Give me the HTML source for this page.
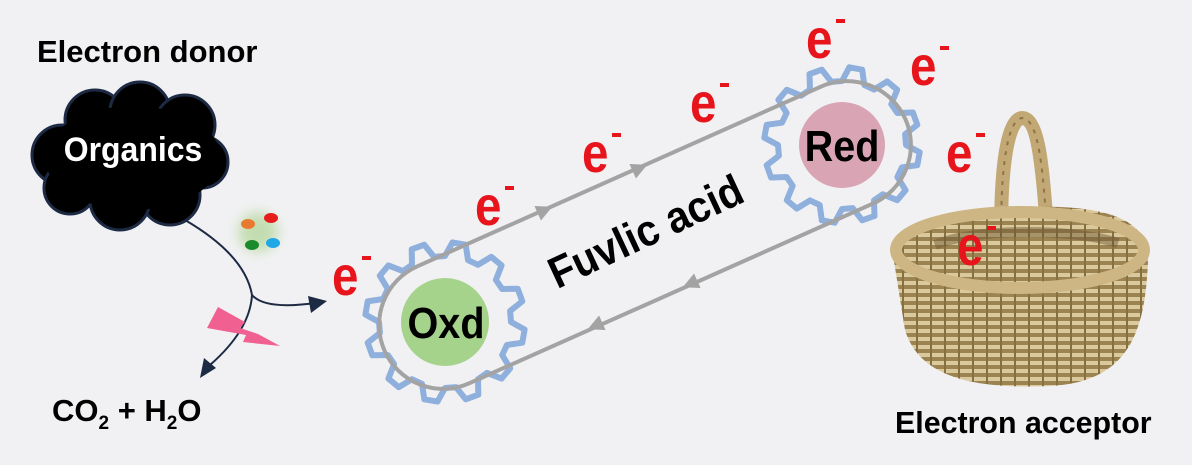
<!DOCTYPE html>
<html><head><meta charset="utf-8"><style>
html,body{margin:0;padding:0;background:#f1f1f3;}
svg{display:block;}
.t{font-family:"Liberation Sans",sans-serif;font-weight:bold;}
.e{font-family:"Liberation Sans",sans-serif;font-weight:bold;fill:#e8141c;font-size:56px;}
</style></head><body>
<svg id="s" width="1192" height="465" viewBox="0 0 1192 465" xmlns="http://www.w3.org/2000/svg">
<defs>
<filter id="bl" x="-50%" y="-50%" width="200%" height="200%"><feGaussianBlur stdDeviation="6"/></filter>
<pattern id="wk" width="14" height="8" patternUnits="userSpaceOnUse">
<rect width="14" height="8" fill="#9c8352"/>
<rect y="1" width="14" height="4" fill="#d9c99c"/>
<rect x="6" width="2" height="8" fill="#86703f"/>
</pattern>
</defs>
<rect width="1192" height="465" fill="#f1f1f3"/>
<text class="t" font-size="31" transform="translate(37,62)">Electron donor</text>
<!-- cloud -->
<g fill="#000" stroke="#1d2a44" stroke-width="3">
<circle cx="62" cy="155" r="30"/><circle cx="95" cy="120" r="30"/><circle cx="140" cy="112" r="30"/>
<circle cx="185" cy="125" r="30"/><circle cx="202" cy="162" r="26"/><circle cx="170" cy="195" r="30"/>
<circle cx="120" cy="200" r="30"/><circle cx="70" cy="188" r="26"/>
</g>
<ellipse cx="133" cy="158" rx="88" ry="52" fill="#000"/>
<text class="t" font-size="34" fill="#fff" text-anchor="middle" transform="translate(133,161) scale(0.94 1)">Organics</text>
<!-- dots -->
<circle cx="258" cy="232" r="20" fill="#b8d8a0" filter="url(#bl)" opacity="0.8"/>
<ellipse cx="248" cy="224" rx="7" ry="5" fill="#e87a30"/>
<ellipse cx="271" cy="218" rx="7" ry="5" fill="#e51d1d"/>
<ellipse cx="252" cy="245" rx="7" ry="5" fill="#1a8a2a"/>
<ellipse cx="273" cy="243" rx="7" ry="5" fill="#20a8e6"/>
<!-- curves -->
<path d="M185 220 Q245 255 252 295 Q265 310 315 303" fill="none" stroke="#1d2a44" stroke-width="2"/>
<polygon points="327,301 308,296 311,313" fill="#1d2a44"/>
<path d="M252 295 Q250 330 210 365" fill="none" stroke="#1d2a44" stroke-width="2"/>
<polygon points="200,378 204,358 216,368" fill="#1d2a44"/>
<polygon points="218,307 245,322 240,328 258,334 280,346 243,342 246,335 207,328" fill="#f06090"/>
<text class="t" font-size="31" transform="translate(52,421)">CO<tspan font-size="19" dy="8">2</tspan><tspan dy="-8"> + H</tspan><tspan font-size="19" dy="8">2</tspan><tspan dy="-8">O</tspan></text>
<!-- gears -->
<path id="g1" fill="none" stroke="#8fb0dd" stroke-width="6" stroke-linejoin="round"/>
<path id="g2" fill="none" stroke="#8fb0dd" stroke-width="6" stroke-linejoin="round"/>
<!-- loop -->
<g transform="translate(645,235) rotate(-24)">
<rect x="-285" y="-64" width="570" height="128" rx="64" fill="none" stroke="#a3a3a3" stroke-width="4"/>
</g>
<g fill="#a3a3a3">
<polygon points="-8,-8 8,0 -8,8" transform="translate(545,210) rotate(-24)"/>
<polygon points="-8,-8 8,0 -8,8" transform="translate(640,168) rotate(-24)"/>
<polygon points="-8,-8 8,0 -8,8" transform="translate(690,284) rotate(156)"/>
<polygon points="-8,-8 8,0 -8,8" transform="translate(595,326) rotate(156)"/>
</g>
<circle cx="445" cy="322" r="44" fill="#a6d38c"/>
<text class="t" font-size="44" text-anchor="middle" transform="translate(446,338) scale(0.9 1)">Oxd</text>
<circle cx="842" cy="145" r="43" fill="#d9a5b5"/>
<text class="t" font-size="44" text-anchor="middle" transform="translate(842,161) scale(0.9 1)">Red</text>
<text class="t" font-size="44" text-anchor="middle" transform="translate(652,245) rotate(-25) scale(0.92 1)">Fuvlic acid</text>
<!-- basket -->
<path d="M1003 285 C998 200 1003 120 1022 118 C1040 118 1043 180 1046 215" fill="none" stroke="#c2a874" stroke-width="14"/>
<path d="M1003 285 C998 200 1003 120 1022 118 C1040 118 1043 180 1046 215" fill="none" stroke="#8f7545" stroke-width="2" stroke-dasharray="4 6"/>
<path d="M893 255 C893 215 1000 205 1060 207 C1130 210 1150 232 1148 262 C1145 330 1130 382 1050 386 C980 389 920 380 905 330 Z" fill="url(#wk)"/>
<ellipse cx="1020" cy="250" rx="124" ry="38" fill="none" stroke="#cdb683" stroke-width="12"/>
<path d="M935 245 C975 228 1070 228 1118 243" fill="none" stroke="#6b5530" stroke-width="10" opacity="0.45"/>
<text class="t" font-size="31" transform="translate(895,433) scale(0.98 1)">Electron acceptor</text>
<!-- e- -->
<g class="e">
<text transform="translate(332,295) scale(0.85 1)">e</text>
<text transform="translate(475,225) scale(0.85 1)">e</text>
<text transform="translate(582,172) scale(0.85 1)">e</text>
<text transform="translate(690,122) scale(0.85 1)">e</text>
<text transform="translate(806,58) scale(0.85 1)">e</text>
<text transform="translate(910,85) scale(0.85 1)">e</text>
<text transform="translate(946,172) scale(0.85 1)">e</text>
<text transform="translate(957,265) scale(0.85 1)">e</text>
</g>
<g fill="#e8141c">
<rect x="362" y="256" width="9" height="4"/><rect x="505" y="186" width="9" height="4"/>
<rect x="612" y="133" width="9" height="4"/><rect x="720" y="83" width="9" height="4"/>
<rect x="836" y="19" width="9" height="4"/><rect x="940" y="46" width="9" height="4"/>
<rect x="976" y="133" width="9" height="4"/><rect x="987" y="226" width="9" height="4"/>
</g>
</svg>
<script>
function gear(cx,cy,ro,ri,n){var d="",k=0;for(var i=0;i<n;i++){var a=i*2*Math.PI/n,w=2*Math.PI/n;
var pts=[[ri,a],[ro,a+w*0.18],[ro,a+w*0.5],[ri,a+w*0.68]];
pts.forEach(function(p){d+=(k++?"L":"M")+(cx+p[0]*Math.cos(p[1])).toFixed(1)+" "+(cy+p[0]*Math.sin(p[1])).toFixed(1)+" ";});}
return d+"Z";}
document.getElementById("g1").setAttribute("d",gear(445,322,80,66,12));
document.getElementById("g2").setAttribute("d",gear(842,145,78,64,12));
</script>
</body></html>
